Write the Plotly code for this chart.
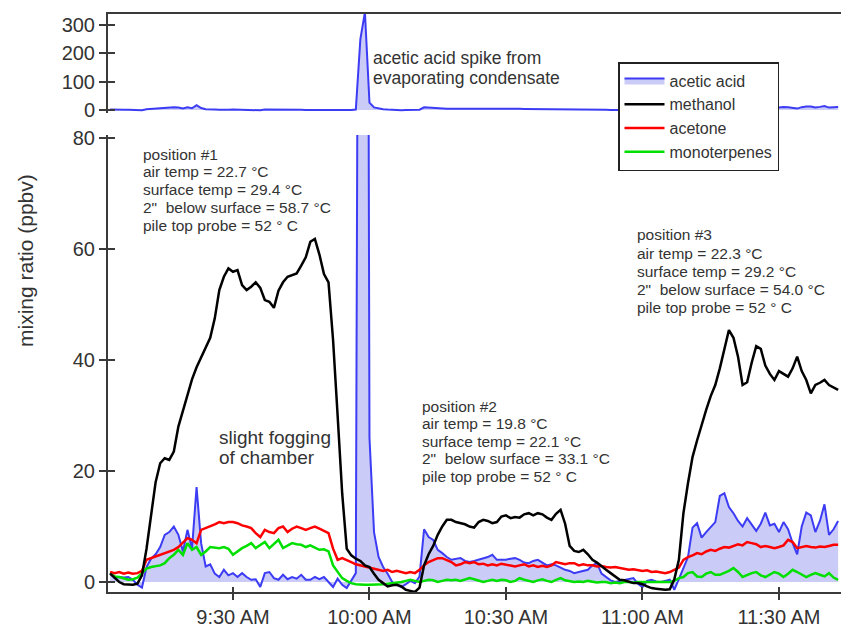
import pandas as pd
import plotly.graph_objects as go

# ---------------- data (1-minute samples starting 09:03) ----------------
START_TIME = "2011-01-01 09:03"

methanol = [1.5,0.8,0.0,-0.4,-0.5,-0.5,-0.3,1.2,6.0,12.0,
            18.0,21.4,22.3,22.0,23.5,28.0,31.0,34.0,36.5,38.7,
            40.5,42.0,44.0,47.5,52.6,55.0,56.5,55.9,56.2,53.5,
            52.6,53.2,54.0,53.0,50.8,50.5,49.4,52.5,54.0,55.0,
            55.3,55.6,57.0,58.5,61.3,61.8,59.0,55.5,54.0,43.6,
            30.0,16.0,6.0,4.8,4.2,3.8,3.0,2.7,1.5,0.4,
            -0.2,-0.8,-0.6,-0.5,-0.8,-1.4,-1.6,-1.8,-1.0,3.0,
            5.0,6.5,8.5,10.0,11.2,11.2,10.8,10.6,10.4,10.0,
            9.8,10.8,11.2,11.0,10.6,10.8,11.8,12.0,11.5,11.7,
            11.6,12.2,12.4,12.0,12.4,12.2,11.6,11.2,12.3,13.0,
            10.5,6.5,5.6,5.4,5.8,5.0,4.0,3.5,2.8,2.2,
            1.6,1.0,0.4,0.3,0.1,-0.2,-0.2,-0.4,-0.8,-1.1,
            -1.2,-1.3,-1.4,-1.3,0.5,4.0,12.4,17.8,22.5,25.5,
            28.5,31.0,33.5,35.5,38.5,42.0,45.4,44.0,40.6,35.5,
            36.0,39.5,42.5,42.0,39.0,37.5,36.4,38.0,37.5,37.0,
            38.5,40.6,38.0,36.4,34.0,35.5,35.9,36.4,35.5,35.1,
            34.6]

acetone = [1.8,1.6,1.8,1.5,1.7,1.5,1.6,2.0,4.0,4.3,
           4.6,4.9,5.2,5.5,5.8,6.3,7.2,7.9,7.6,7.0,
           9.4,9.7,10.0,10.4,10.8,10.6,10.8,10.8,10.6,10.2,
           10.0,9.7,8.8,8.1,9.4,9.0,8.8,9.7,10.0,9.0,
           9.6,10.0,9.7,9.4,9.7,10.0,9.6,9.2,8.8,6.0,
           4.0,4.3,4.0,3.6,3.2,3.0,2.7,2.5,2.4,2.2,
           2.0,2.2,1.8,2.0,1.8,1.6,1.8,1.6,2.2,3.0,
           3.6,4.0,4.3,4.3,4.0,3.6,3.0,3.2,3.6,3.4,
           3.6,3.2,3.3,3.0,3.2,3.0,3.3,3.1,3.0,2.8,
           3.0,3.2,2.8,3.0,2.7,2.9,2.7,3.0,3.6,3.4,
           3.2,3.4,3.4,3.0,3.2,3.0,3.0,2.8,2.9,2.7,
           2.6,2.7,2.5,2.4,2.2,2.3,2.2,2.0,2.1,1.8,
           1.9,1.8,1.6,1.8,2.2,2.6,4.0,4.5,4.8,5.2,
           5.0,5.5,5.8,5.6,6.0,6.3,6.2,6.5,6.8,6.6,
           7.2,7.0,6.8,6.3,6.5,6.3,6.1,6.3,6.6,7.6,
           7.2,6.1,6.3,6.5,6.3,6.2,6.4,6.3,6.5,6.7,
           6.7]

monoterpenes = [1.6,1.0,0.9,0.6,0.4,0.5,0.8,1.6,2.4,2.7,
                2.9,3.0,3.4,4.3,4.9,5.8,4.9,7.0,5.8,6.3,
                4.9,5.5,6.3,6.2,6.1,6.3,6.0,4.9,5.5,6.1,
                6.5,7.0,6.1,6.6,7.2,6.1,6.8,7.6,6.1,6.5,
                7.0,6.8,6.7,6.3,6.6,6.2,5.8,5.9,5.5,3.0,
                1.8,0.7,0.2,-0.2,-0.4,-0.5,-0.5,-0.5,-0.5,-0.5,
                -0.4,-0.3,-0.2,-0.2,0.0,0.2,0.4,0.2,0.0,0.2,
                0.4,0.3,0.0,0.2,0.4,0.3,0.4,0.2,0.5,0.7,
                0.5,0.3,0.0,0.2,0.4,0.2,0.4,0.3,0.0,0.2,
                0.7,0.4,0.2,0.0,0.3,0.5,0.2,0.0,0.4,0.7,
                0.3,0.2,0.0,0.1,0.0,0.2,0.0,-0.1,0.0,0.0,
                -0.2,-0.1,-0.2,0.0,0.0,-0.1,0.0,0.0,0.0,0.0,
                0.0,0.0,0.0,0.0,0.2,0.7,0.9,1.6,1.8,1.0,
                0.9,1.5,1.8,1.3,1.3,1.6,2.0,2.5,1.8,0.9,
                1.3,1.6,1.8,1.2,0.9,1.3,1.8,1.5,0.9,1.5,
                2.2,1.8,1.3,0.9,1.3,1.6,1.3,1.0,1.6,0.8,
                0.4]

acetic_acid = [1.6,0.7,0.9,0.8,0.9,0.4,-0.5,-1.0,2.7,4.2,
               5.0,6.3,8.5,9.0,10.0,8.5,5.5,9.4,6.0,17.1,
               7.0,2.8,3.2,1.5,0.9,2.2,1.2,1.6,0.9,1.6,
               0.9,0.4,0.5,-0.9,1.6,1.8,0.7,0.4,1.3,0.5,
               0.9,0.6,1.3,0.4,0.4,0.9,0.5,0.9,0.0,-0.9,
               0.6,-0.5,-1.1,0.2,1.6,250,345,26,9.0,4.5,
               2.7,1.5,0.0,-0.5,-0.9,-0.4,0.2,-0.2,1.0,9.5,
               8.1,7.6,5.8,5.2,4.5,4.0,4.2,4.3,3.8,3.6,
               3.8,4.0,4.3,4.5,4.9,4.0,4.0,4.0,4.2,4.3,
               4.0,3.5,3.4,3.8,4.0,3.5,3.0,3.2,3.0,2.6,
               2.2,2.0,1.6,1.8,2.0,2.2,3.0,3.4,1.5,0.9,
               0.3,0.0,0.2,0.4,0.6,0.7,-0.3,-0.9,0.2,0.4,
               0.1,0.0,0.2,0.4,-1.4,0.4,2.5,4.5,9.8,10.6,
               8.0,9.0,10.0,10.8,15.5,16.0,13.5,12.4,11.0,10.0,
               11.5,10.4,9.2,10.5,12.5,10.2,10.5,9.0,10.8,9.5,
               7.0,5.0,10.0,12.5,12.0,9.0,11.0,14.0,8.5,9.5,
               11.0]

tick_times = ["2011-01-01 09:30", "2011-01-01 10:00", "2011-01-01 10:30",
              "2011-01-01 11:00", "2011-01-01 11:30"]
tick_labels = ["9:30 AM", "10:00 AM", "10:30 AM", "11:00 AM", "11:30 AM"]
x_range = ["2011-01-01 09:02:32", "2011-01-01 11:43:38"]

notes1 = ["position #1", "air temp = 22.7 °C", "surface temp = 29.4 °C",
          "2\"  below surface = 58.7 °C", "pile top probe = 52 ° C"]
notes2 = ["position #2", "air temp = 19.8 °C", "surface temp = 22.1 °C",
          "2\"  below surface = 33.1 °C", "pile top probe = 52 ° C"]
notes3 = ["position #3", "air temp = 22.3 °C", "surface temp = 29.2 °C",
          "2\"  below surface = 54.0 °C", "pile top probe = 52 ° C"]
spike_note = ["acetic acid spike from", "evaporating condensate"]
fog_note = ["slight fogging", "of chamber"]

times = pd.date_range(START_TIME, periods=len(methanol), freq="min")

# ---------------- styling ----------------
FONT = "Liberation Sans, Arial, sans-serif"
AX = "#3a3a3a"
TXT = "#333333"
BLUE = "#3c3cf5"
FILL = "rgba(185,185,245,0.75)"

W, H = 841, 628
L, R, T, B = 108, 0, 14, 36
PW, PH = W - L - R, H - T - B


def paper(px, py):
    return (px - L) / PW, (H - B - py) / PH


fig = go.Figure()

# bottom panel
fig.add_trace(go.Scatter(x=times, y=acetic_acid, name="acetic acid", mode="lines",
                         line=dict(color=BLUE, width=2), fill="tozeroy", fillcolor=FILL,
                         xaxis="x", yaxis="y", legendrank=1))
fig.add_trace(go.Scatter(x=times, y=monoterpenes, name="monoterpenes", mode="lines",
                         line=dict(color="#00e000", width=2.5), xaxis="x", yaxis="y",
                         legendrank=4))
fig.add_trace(go.Scatter(x=times, y=acetone, name="acetone", mode="lines",
                         line=dict(color="#ff0000", width=2.5), xaxis="x", yaxis="y",
                         legendrank=3))
fig.add_trace(go.Scatter(x=times, y=methanol, name="methanol", mode="lines",
                         line=dict(color="#000000", width=2.5), xaxis="x", yaxis="y",
                         legendrank=2))
# top panel
fig.add_trace(go.Scatter(x=times, y=acetic_acid, name="acetic acid", mode="lines",
                         line=dict(color=BLUE, width=2), fill="tozeroy", fillcolor=FILL,
                         xaxis="x2", yaxis="y2", showlegend=False))
# invisible carriers so the inner-tick overlay axes are drawn
fig.add_trace(go.Scatter(x=times, y=methanol, mode="lines", line=dict(width=0),
                         opacity=0, xaxis="x3", yaxis="y3", showlegend=False,
                         hoverinfo="skip"))
fig.add_trace(go.Scatter(x=times, y=acetic_acid, mode="lines", line=dict(width=0),
                         opacity=0, xaxis="x2", yaxis="y4", showlegend=False,
                         hoverinfo="skip"))

bottom_dom = [0, (H - B - 135) / PH]
top_dom = [(H - B - 113) / PH, 1]

axis_common = dict(showgrid=False, zeroline=False, linecolor=AX, linewidth=2,
                   tickcolor=AX, tickwidth=1.5,
                   tickfont=dict(family=FONT, size=20, color=TXT))

fig.update_layout(
    width=W, height=H,
    margin=dict(l=L, r=R, t=T, b=B, pad=0),
    paper_bgcolor="white", plot_bgcolor="white",
    font=dict(family=FONT, color=TXT),
    xaxis=dict(axis_common, domain=[0, 1], anchor="y", range=x_range, type="date",
               showline=True, ticks="outside", ticklen=6,
               tickvals=tick_times, ticktext=tick_labels),
    xaxis2=dict(axis_common, domain=[0, 1], anchor="y2", range=x_range, type="date",
                matches="x", side="top", showline=True, ticks="", showticklabels=False),
    xaxis3=dict(axis_common, overlaying="x", anchor="y", side="bottom", range=x_range,
                type="date", showline=False, ticks="inside", ticklen=5,
                showticklabels=False, tickvals=tick_times),
    yaxis=dict(axis_common, domain=bottom_dom, anchor="x", range=[-1.8, 80.54],
               showline=True, ticks="outside", ticklen=7, tickvals=[0, 20, 40, 60, 80]),
    yaxis3=dict(axis_common, overlaying="y", anchor="x3", side="left", range=[-1.8, 80.54],
                showline=False, ticks="inside", ticklen=7, showticklabels=False,
                tickvals=[0, 20, 40, 60, 80]),
    yaxis2=dict(axis_common, domain=top_dom, anchor="x2", range=[-10.6, 338.8],
                showline=True, ticks="outside", ticklen=7, tickvals=[0, 100, 200, 300]),
    yaxis4=dict(axis_common, overlaying="y2", anchor="x2", side="left", range=[-10.6, 338.8],
                showline=False, ticks="inside", ticklen=7, showticklabels=False,
                tickvals=[0, 100, 200, 300]),
    legend=dict(x=paper(618, 0)[0], y=paper(0, 62)[1], xanchor="left", yanchor="top",
                bgcolor="white", bordercolor="#222", borderwidth=1.5,
                font=dict(family=FONT, size=16, color=TXT), traceorder="normal",
                tracegroupgap=0, itemwidth=40),
    showlegend=True,
)

annotations = []


def add_lines(lines, x0, y0, dy, size):
    for i, s in enumerate(lines):
        xp, yp = paper(x0, y0 + i * dy)
        annotations.append(dict(text=s, x=xp, y=yp, xref="paper", yref="paper",
                                xanchor="left", yanchor="middle", showarrow=False,
                                font=dict(family=FONT, size=size, color=TXT)))


add_lines(notes1, 141, 154, 17.8, 15.5)
add_lines(notes2, 420, 406, 17.6, 15.5)
add_lines(notes3, 635, 235, 18.2, 15.5)
add_lines(spike_note, 371, 58, 20, 17.5)
add_lines(fog_note, 217, 437, 20, 19)

tx, ty = paper(25, 261)
annotations.append(dict(text="mixing ratio (ppbv)", x=tx, y=ty, xref="paper", yref="paper",
                        textangle=-90, showarrow=False, xanchor="center", yanchor="middle",
                        font=dict(family=FONT, size=21, color=TXT)))
fig.update_layout(annotations=annotations)

fig.write_html("out.html")
